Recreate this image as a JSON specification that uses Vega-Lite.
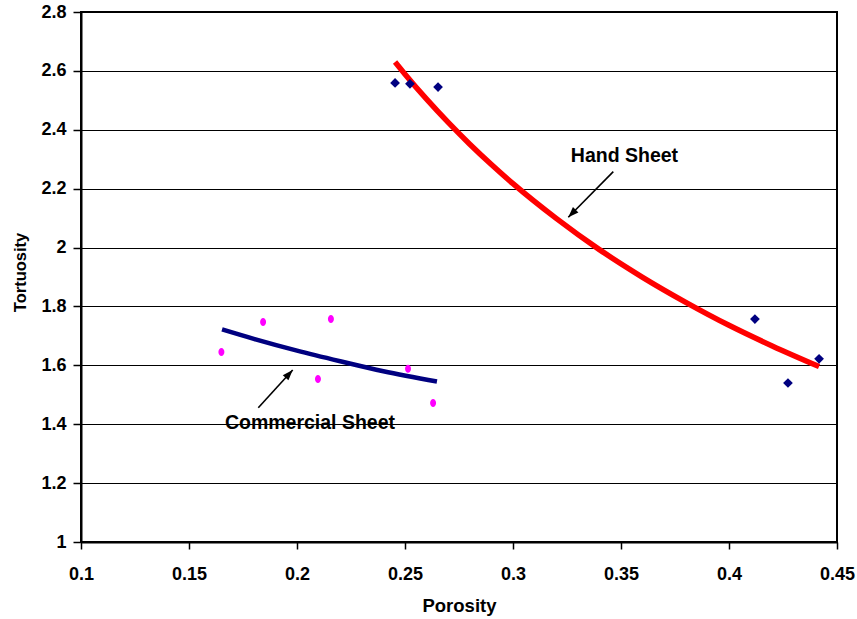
{
  "$schema": "https://vega.github.io/schema/vega-lite/v6.json",
  "width": 756,
  "height": 530,
  "autosize": {"type": "none"},
  "padding": {"left": 81, "top": 12, "right": 20, "bottom": 77},
  "background": "white",
  "config": {
    "font": "Liberation Sans",
    "view": {"stroke": "black", "strokeWidth": 2},
    "axis": {
      "labelFont": "Liberation Sans",
      "labelFontWeight": "bold",
      "labelFontSize": 18,
      "labelColor": "black",
      "labelFlush": false,
      "labelOverlap": false,
      "titleFont": "Liberation Sans",
      "titleFontWeight": "bold",
      "titleColor": "black",
      "domainColor": "black",
      "domainWidth": 2,
      "tickColor": "black",
      "tickWidth": 1.5
    }
  },
  "datasets": {
    "samples": [
      {"sheet": "Commercial", "porosity": 0.165, "tortuosity": 1.645},
      {"sheet": "Commercial", "porosity": 0.1843, "tortuosity": 1.747},
      {"sheet": "Commercial", "porosity": 0.2157, "tortuosity": 1.757},
      {"sheet": "Commercial", "porosity": 0.2097, "tortuosity": 1.554},
      {"sheet": "Commercial", "porosity": 0.2514, "tortuosity": 1.588},
      {"sheet": "Commercial", "porosity": 0.263, "tortuosity": 1.472},
      {"sheet": "Hand", "porosity": 0.2454, "tortuosity": 2.559},
      {"sheet": "Hand", "porosity": 0.2523, "tortuosity": 2.556},
      {"sheet": "Hand", "porosity": 0.2653, "tortuosity": 2.545},
      {"sheet": "Hand", "porosity": 0.412, "tortuosity": 1.757},
      {"sheet": "Hand", "porosity": 0.4273, "tortuosity": 1.54},
      {"sheet": "Hand", "porosity": 0.4417, "tortuosity": 1.622}
    ],
    "trends": [
      {"sheet": "Commercial", "porosity": 0.1653, "tortuosity": 1.722},
      {"sheet": "Commercial", "porosity": 0.18, "tortuosity": 1.69},
      {"sheet": "Commercial", "porosity": 0.2, "tortuosity": 1.65},
      {"sheet": "Commercial", "porosity": 0.22, "tortuosity": 1.614},
      {"sheet": "Commercial", "porosity": 0.24, "tortuosity": 1.58},
      {"sheet": "Commercial", "porosity": 0.2648, "tortuosity": 1.545},
      {"sheet": "Hand", "porosity": 0.2454, "tortuosity": 2.63},
      {"sheet": "Hand", "porosity": 0.25, "tortuosity": 2.589},
      {"sheet": "Hand", "porosity": 0.26, "tortuosity": 2.504},
      {"sheet": "Hand", "porosity": 0.27, "tortuosity": 2.425},
      {"sheet": "Hand", "porosity": 0.28, "tortuosity": 2.351},
      {"sheet": "Hand", "porosity": 0.29, "tortuosity": 2.282},
      {"sheet": "Hand", "porosity": 0.3, "tortuosity": 2.217},
      {"sheet": "Hand", "porosity": 0.32, "tortuosity": 2.099},
      {"sheet": "Hand", "porosity": 0.34, "tortuosity": 1.993},
      {"sheet": "Hand", "porosity": 0.36, "tortuosity": 1.899},
      {"sheet": "Hand", "porosity": 0.38, "tortuosity": 1.814},
      {"sheet": "Hand", "porosity": 0.4, "tortuosity": 1.736},
      {"sheet": "Hand", "porosity": 0.42, "tortuosity": 1.666},
      {"sheet": "Hand", "porosity": 0.4417, "tortuosity": 1.596}
    ],
    "notes": [
      {"label": "Hand Sheet", "porosity": 0.3516, "tortuosity": 2.291},
      {"label": "Commercial Sheet", "porosity": 0.206, "tortuosity": 1.384}
    ],
    "arrows": [
      {"p0": 0.34644, "t0": 2.2578, "p1": 0.3256, "t1": 2.1029, "heading": 224.6},
      {"p0": 0.18208, "t0": 1.4562, "p1": 0.19801, "t1": 1.5842, "heading": 42.4}
    ]
  },
  "layer": [
    {
      "data": {"name": "trends"},
      "transform": [{"filter": "datum.sheet === 'Hand'"}],
      "mark": {"type": "line", "color": "#FF0000", "strokeWidth": 5.5, "interpolate": "monotone", "strokeCap": "butt"},
      "encoding": {
        "x": {
          "field": "porosity",
          "type": "quantitative",
          "scale": {"domain": [0.1, 0.45], "nice": false, "zero": false},
          "axis": {
            "title": "Porosity",
            "titleFontSize": 18.5,
            "titleAnchor": "middle",
            "titleY": 69,
            "titleBaseline": "alphabetic",
            "values": [0.1, 0.15, 0.2, 0.25, 0.3, 0.35, 0.4, 0.45],
            "format": "~g",
            "tickSize": 7,
            "labelPadding": 16,
            "grid": false
          }
        },
        "y": {
          "field": "tortuosity",
          "type": "quantitative",
          "scale": {"domain": [1, 2.8], "nice": false, "zero": false},
          "axis": {
            "title": "Tortuosity",
            "titleFontSize": 16.5,
            "titleAngle": -90,
            "titleX": -56,
            "titleY": 260,
            "titleAlign": "center",
            "titleBaseline": "alphabetic",
            "values": [1, 1.2, 1.4, 1.6, 1.8, 2, 2.2, 2.4, 2.6, 2.8],
            "format": "~g",
            "tickSize": 8,
            "labelPadding": 7,
            "grid": true,
            "gridColor": "black",
            "gridWidth": 1,
            "gridOpacity": 1
          }
        }
      }
    },
    {
      "data": {"name": "trends"},
      "transform": [{"filter": "datum.sheet === 'Commercial'"}],
      "mark": {"type": "line", "color": "#000080", "strokeWidth": 4.5, "interpolate": "monotone", "strokeCap": "butt"},
      "encoding": {
        "x": {"field": "porosity", "type": "quantitative"},
        "y": {"field": "tortuosity", "type": "quantitative"}
      }
    },
    {
      "data": {"name": "samples"},
      "transform": [{"filter": "datum.sheet === 'Hand'"}],
      "mark": {"type": "point", "shape": "diamond", "filled": true, "color": "#000080", "size": 95, "opacity": 1},
      "encoding": {
        "x": {"field": "porosity", "type": "quantitative"},
        "y": {"field": "tortuosity", "type": "quantitative"}
      }
    },
    {
      "data": {"name": "samples"},
      "transform": [{"filter": "datum.sheet === 'Commercial'"}],
      "mark": {"type": "point", "shape": "M0,-1A0.75,1 0 1,1 0,1A0.75,1 0 1,1 0,-1Z", "filled": true, "color": "#FF00FF", "size": 64, "opacity": 1},
      "encoding": {
        "x": {"field": "porosity", "type": "quantitative"},
        "y": {"field": "tortuosity", "type": "quantitative"}
      }
    },
    {
      "data": {"name": "arrows"},
      "mark": {"type": "rule", "color": "black", "strokeWidth": 1.6},
      "encoding": {
        "x": {"field": "p0", "type": "quantitative"},
        "y": {"field": "t0", "type": "quantitative"},
        "x2": {"field": "p1"},
        "y2": {"field": "t1"}
      }
    },
    {
      "data": {"name": "arrows"},
      "mark": {"type": "point", "shape": "M0,0L-0.55,1.5L0.55,1.5Z", "filled": true, "color": "black", "size": 196, "opacity": 1},
      "encoding": {
        "x": {"field": "p1", "type": "quantitative"},
        "y": {"field": "t1", "type": "quantitative"},
        "angle": {"field": "heading", "type": "quantitative", "scale": null}
      }
    },
    {
      "data": {"name": "notes"},
      "mark": {"type": "text", "font": "Liberation Sans", "fontWeight": "bold", "fontSize": 19.5, "align": "center", "baseline": "alphabetic", "color": "black"},
      "encoding": {
        "x": {"field": "porosity", "type": "quantitative"},
        "y": {"field": "tortuosity", "type": "quantitative"},
        "text": {"field": "label"}
      }
    }
  ]
}
